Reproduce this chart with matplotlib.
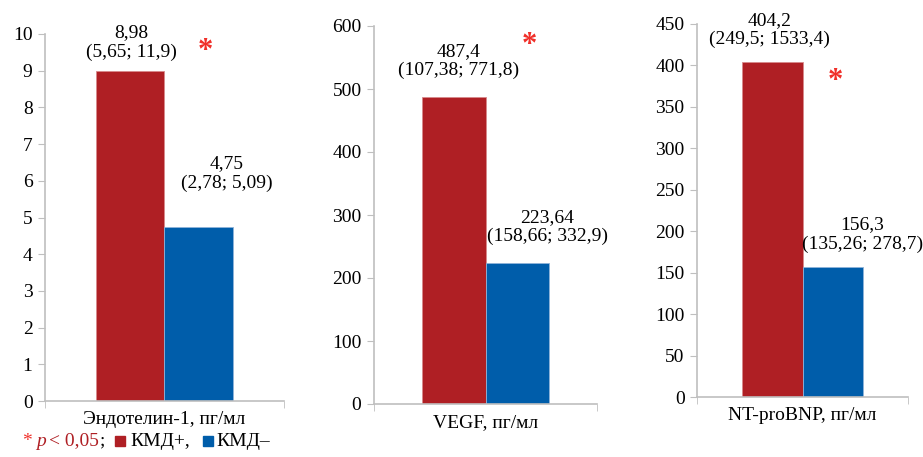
import numpy as np
import matplotlib
matplotlib.use('Agg')
import matplotlib.pyplot as plt
from matplotlib.patches import Rectangle

plt.rcParams['font.family'] = ['Liberation Serif', 'DejaVu Serif']

# data
categories = ['Эндотелин-1, пг/мл', 'VEGF, пг/мл', 'NT-proBNP, пг/мл']
kmd_plus = [8.98, 487.4, 404.2]
kmd_minus = [4.75, 223.64, 156.3]
plus_labels = ['8,98\n(5,65; 11,9)', '487,4\n(107,38; 771,8)', '404,2\n(249,5; 1533,4)']
minus_labels = ['4,75\n(2,78; 5,09)', '223,64\n(158,66; 332,9)', '156,3\n(135,26; 278,7)']
y_max = [10, 600, 450]
y_step = [1, 100, 50]

RED = '#AF1F24'
BLUE = '#005DAA'
STAR = '#F0302A'
GRAY = '#BFBFBF'

W, H = 923, 457
fig = plt.figure(figsize=(W / 100, H / 100), dpi=100)

# axes rectangles in pixels: left, top, right, bottom
boxes = [(45, 34, 284, 401), (374, 26, 597, 404), (697, 24, 908, 397)]
# label offsets in pixels (dx, dy) for the two labels of each panel
plus_off = [(1, 29), (5, 36), (-3, 32)]
minus_off = [(28, 53), (30, 36), (30, 33)]
stars = [(205, 52), (529, 45), (835, 82)]
bw = 0.285

for i in range(3):
    l, t, r, b = boxes[i]
    ax = fig.add_axes([l / W, 1 - b / H, (r - l) / W, (b - t) / H])
    ax.bar(-bw / 2, kmd_plus[i], width=bw, color=RED, edgecolor='#D88A8C', linewidth=0.6)
    ax.bar(bw / 2, kmd_minus[i], width=bw, color=BLUE, edgecolor='#8FB3D9', linewidth=0.6)
    ax.set_xlim(-0.5, 0.5)
    ax.set_ylim(0, y_max[i])
    ax.set_yticks(np.arange(0, y_max[i] + y_step[i] / 2, y_step[i]))
    ax.set_xticks([0])
    ax.set_xticklabels([categories[i]])
    ax.set_xticks([-0.5, 0.5], minor=True)
    ax.tick_params(axis='x', which='major', length=0, pad=7, labelsize=14)
    ax.tick_params(axis='x', which='minor', length=5, color=GRAY, direction='out')
    ax.tick_params(axis='y', length=5, color=GRAY, direction='out', pad=4, labelsize=14)
    for s in ['top', 'right']:
        ax.spines[s].set_visible(False)
    for s in ['left', 'bottom']:
        ax.spines[s].set_color(GRAY)
        ax.spines[s].set_linewidth(1.2)
    ax.annotate(plus_labels[i], xy=(-bw / 2, kmd_plus[i]), xytext=plus_off[i],
                textcoords='offset pixels', ha='center', va='center', fontsize=14,
                linespacing=1.15, annotation_clip=False)
    ax.annotate(minus_labels[i], xy=(bw / 2, kmd_minus[i]), xytext=minus_off[i],
                textcoords='offset pixels', ha='center', va='center', fontsize=14,
                linespacing=1.15, annotation_clip=False)
    sx, sy = stars[i]
    fig.text(sx / W, 1 - sy / H, '*', color=STAR, fontsize=22, ha='center', va='center',
             fontweight='bold')

# legend line at bottom
ly = 1 - 441 / H
fig.text(22 / W, ly, '*', color=STAR, fontsize=14, va='center')
fig.text(36 / W, ly, 'p', color=RED, fontsize=14, va='center', style='italic')
fig.text(49 / W, ly, '< 0,05', color=RED, fontsize=14, va='center')
fig.text(99 / W, ly, ';', color='black', fontsize=14, va='center')
fig.patches.append(Rectangle((115 / W, 1 - 446 / H), 10 / W, 10 / H, color=RED,
                             transform=fig.transFigure, figure=fig))
fig.text(130 / W, ly, 'КМД+,', fontsize=14, va='center')
fig.patches.append(Rectangle((203 / W, 1 - 446 / H), 10 / W, 10 / H, color=BLUE,
                             transform=fig.transFigure, figure=fig))
fig.text(216 / W, ly, 'КМД–', fontsize=14, va='center')

fig.savefig('out.png', dpi=100)
